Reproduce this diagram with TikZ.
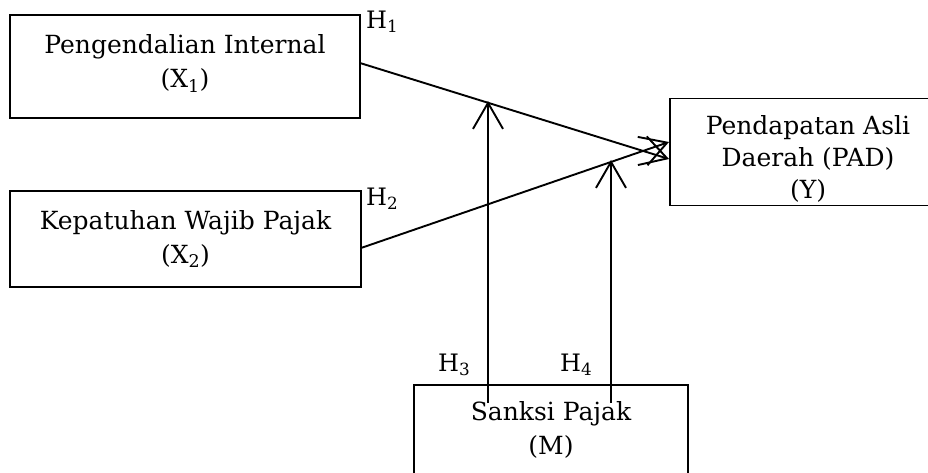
\documentclass[tikz,border=0pt]{standalone}
\usepackage{fontspec}
\setmainfont{DejaVu Serif}
\usetikzlibrary{arrows.meta}
\begin{document}
\begin{tikzpicture}[x=1pt,y=-1pt,
  box/.style={draw, line width=1.3pt, rectangle, align=center, inner sep=0pt,
    font=\fontsize{25}{34}\selectfont},
  hlab/.style={font=\fontsize{24}{28}\selectfont, inner sep=0pt},
  arr/.style={line width=1.9pt, -{Straight Barb[length=26pt,width=30pt,line width=1.9pt]}}
]
\useasboundingbox (0,0) rectangle (928,473);
\fill[white] (0,0) rectangle (928,473);
\node[box, minimum width=350pt, minimum height=103pt] (X1) at (185,66.5)
  {Pengendalian Internal\\(X\textsubscript{1})\\[-24pt]};
\node[box, minimum width=351pt, minimum height=96pt] (X2) at (185.5,239)
  {Kepatuhan Wajib Pajak\\(X\textsubscript{2})};
\node[box, minimum width=276pt, minimum height=107pt] (Y) at (808,152)
  {\strut\\[-24pt]Pendapatan Asli\\[-2pt]Daerah (PAD)\\[-2pt](Y)};
\node[box, minimum width=274pt, minimum height=90pt] (M) at (551,430)
  {Sanksi Pajak\\(M)};
\node[hlab, anchor=west] (H1) at (366,22) {H\textsubscript{1}};
\node[hlab, anchor=west] (H2) at (366,199) {H\textsubscript{2}};
\node[hlab, anchor=west] (H3) at (438,365) {H\textsubscript{3}};
\node[hlab, anchor=west] (H4) at (560,365) {H\textsubscript{4}};
\coordinate (s1) at (360,63);
\coordinate (t1) at (669,159);
\coordinate (s2) at (361,248);
\coordinate (t2) at (669,142);
\coordinate (s3) at (488,403);
\coordinate (t3) at (488,101);
\coordinate (s4) at (611,403);
\coordinate (t4) at (611,160);
\draw[arr] (s1) -- (t1);
\draw[arr] (s2) -- (t2);
\draw[arr] (s3) -- (t3);
\draw[arr] (s4) -- (t4);
\end{tikzpicture}
\end{document}
